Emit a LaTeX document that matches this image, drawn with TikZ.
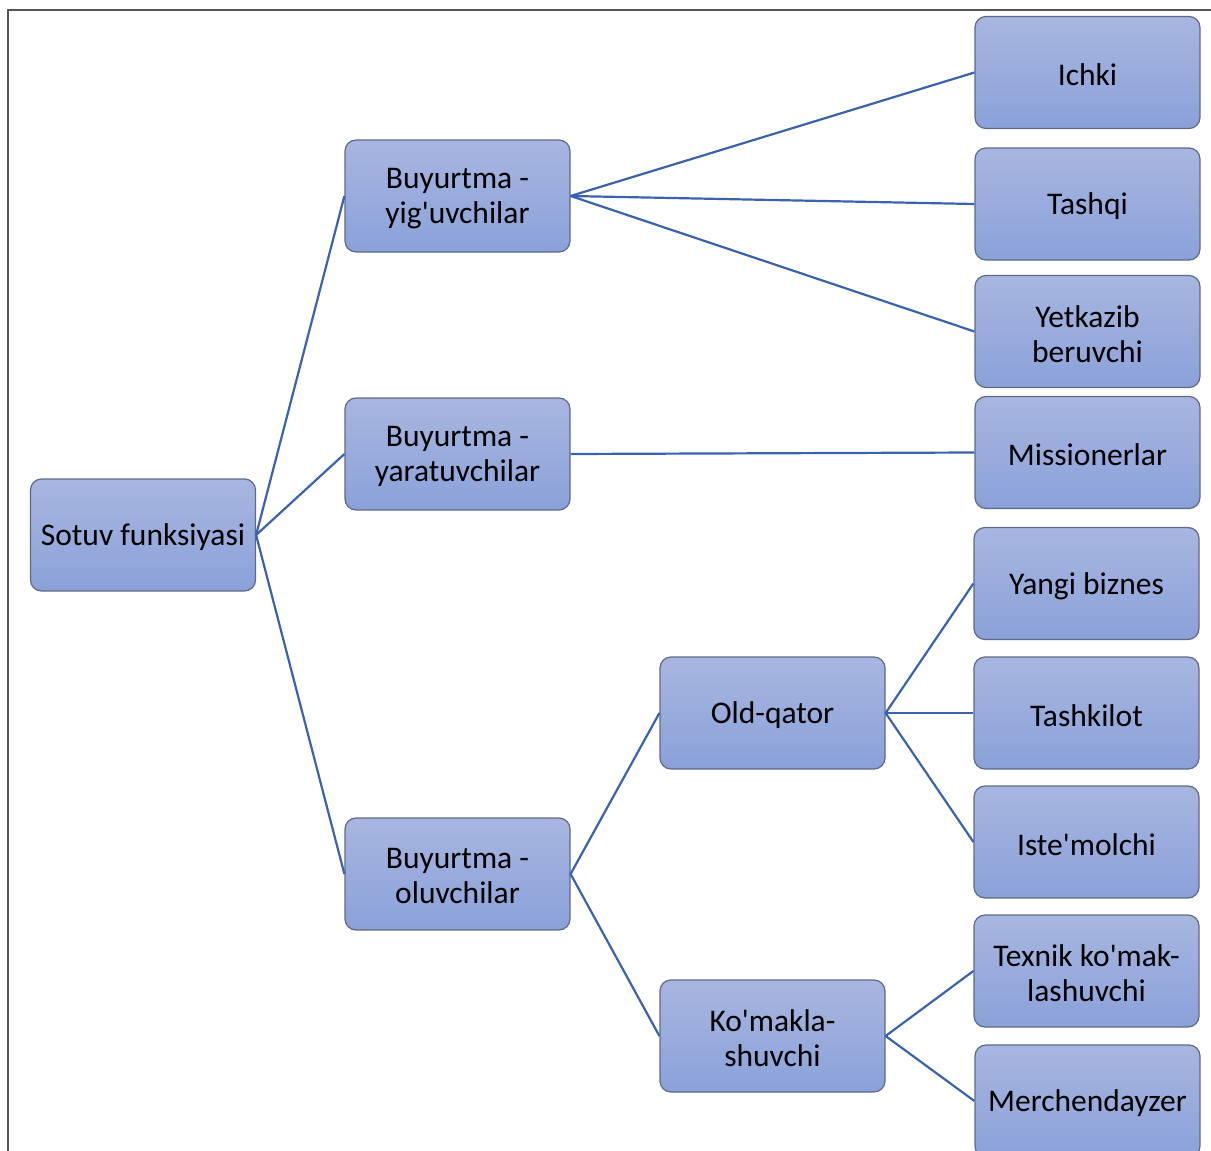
\documentclass[tikz,border=0pt]{standalone}
\usepackage{fontspec}
\setmainfont{Carlito}[Ligatures=TeXOff]
\newcommand\aq{'}
\begin{document}
\begin{tikzpicture}[x=1pt,y=-1pt,
  box/.style={draw=boxline, line width=1.2pt, rounded corners=11pt,
    top color=boxtop, bottom color=boxbot, minimum width=225pt, minimum height=112pt,
    inner sep=2pt, align=center, font=\fontsize{31.5}{35}\selectfont, text=black,
    execute at begin node={\raisebox{0pt}[0pt][0pt]{}}},
  txt/.style={align=center, font=\fontsize{31.5}{35}\selectfont, text=black, inner sep=0pt, yshift=-2.5pt},
  link/.style={draw=linkblue, line width=2.2pt}]
\definecolor{boxtop}{HTML}{A8B6E0}
\definecolor{boxbot}{HTML}{8AA1D9}
\definecolor{boxline}{HTML}{5E6A85}
\definecolor{linkblue}{HTML}{3B62B0}
\definecolor{frame}{HTML}{555555}
\useasboundingbox (0,0) rectangle (1211,1151);
\clip (0,0) rectangle (1211,1151);
\draw[frame, line width=2pt] (8,1160) -- (8,10) -- (1220,10);
\node[box, label={[txt]center:{Sotuv funksiyasi}}] (root) at (143,535) {};
\node[box, label={[txt]center:{Buyurtma -\\yig\aq uvchilar}}] (yig) at (457.5,196) {};
\node[box, label={[txt]center:{Buyurtma -\\yaratuvchilar}}] (yar) at (457.5,454) {};
\node[box, label={[txt]center:{Buyurtma -\\oluvchilar}}] (olu) at (457.5,874) {};
\node[box, label={[txt]center:{Old-qator}}] (old) at (772.5,713) {};
\node[box, label={[txt]center:{Ko\aq makla-\\shuvchi}}] (kom) at (772.5,1036) {};
\node[box, label={[txt]center:{Ichki}}] (ich) at (1087.5,72.5) {};
\node[box, label={[txt]center:{Tashqi}}] (tas) at (1087.5,204) {};
\node[box, label={[txt]center:{Yetkazib\\beruvchi}}] (yet) at (1087.5,331.5) {};
\node[box, label={[txt]center:{Missionerlar}}] (mis) at (1087.5,452.5) {};
\node[box, label={[txt]center:{Yangi biznes}}] (yan) at (1086.5,583.5) {};
\node[box, label={[txt]center:{Tashkilot}}] (tak) at (1086.5,713) {};
\node[box, label={[txt]center:{Iste\aq molchi}}] (ist) at (1086.5,842) {};
\node[box, label={[txt]center:{Texnik ko\aq mak-\\lashuvchi}}] (tex) at (1086.5,971) {};
\node[box, label={[txt]center:{Merchendayzer}}] (mer) at (1087.5,1101) {};
\draw[link] (root.east) -- (yig.west);
\draw[link] (root.east) -- (yar.west);
\draw[link] (root.east) -- (olu.west);
\draw[link] (yig.east) -- (ich.west);
\draw[link] (yig.east) -- (tas.west);
\draw[link] (yig.east) -- (yet.west);
\draw[link] (yar.east) -- (mis.west);
\draw[link] (olu.east) -- (old.west);
\draw[link] (olu.east) -- (kom.west);
\draw[link] (old.east) -- (yan.west);
\draw[link] (old.east) -- (tak.west);
\draw[link] (old.east) -- (ist.west);
\draw[link] (kom.east) -- (tex.west);
\draw[link] (kom.east) -- (mer.west);
\end{tikzpicture}
\end{document}
